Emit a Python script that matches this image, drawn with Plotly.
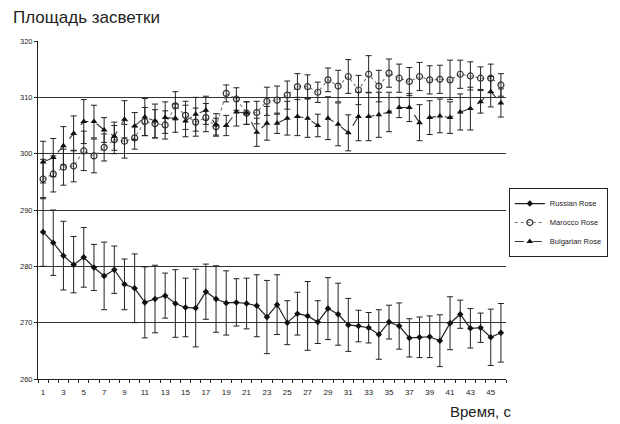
import plotly.graph_objects as go

x_vals = list(range(1, 47))
tick_labels = [str(v) for v in range(1, 47, 2)]

russian = [286.1, 284.2, 281.9, 280.3, 281.6, 279.8, 278.3, 279.4, 276.8, 276.1,
           273.6, 274.2, 274.8, 273.4, 272.7, 272.6, 275.5, 274.2, 273.5, 273.6,
           273.4, 273.0, 271.0, 273.2, 270.0, 271.6, 271.2, 270.1, 272.5, 271.5,
           269.6, 269.4, 269.1, 267.9, 270.1, 269.4, 267.3, 267.4, 267.5, 266.8,
           269.9, 271.5, 269.0, 269.1, 267.4, 268.2]
russian_err = [6.1, 5.8, 6.1, 5.0, 5.3, 4.1, 6.0, 4.2, 4.5, 6.1,
               6.3, 6.0, 4.0, 6.0, 5.2, 6.9, 4.9, 5.9, 5.7, 4.2,
               4.5, 5.5, 6.5, 5.3, 3.9, 3.8, 6.1, 3.8, 5.5, 5.5,
               4.7, 2.8, 2.7, 4.4, 3.0, 4.1, 3.4, 3.6, 3.7, 4.6,
               4.7, 2.5, 3.5, 2.6, 5.0, 5.2]

marocco = [295.5, 296.4, 297.6, 297.8, 300.5, 299.6, 301.1, 302.5, 302.2, 302.8,
           305.7, 305.3, 305.1, 308.5, 306.8, 305.6, 306.4, 304.8, 310.7, 309.7,
           307.2, 307.3, 309.3, 309.5, 310.4, 311.9, 311.9, 310.9, 313.1, 312.0,
           313.7, 311.3, 314.1, 312.0, 314.3, 313.4, 312.8, 313.7, 313.1, 313.2,
           313.1, 314.1, 313.8, 313.4, 313.4, 312.2]
marocco_err = [3.5, 3.2, 3.2, 2.8, 3.5, 3.0, 2.4, 2.5, 3.0, 2.0,
               2.5, 2.5, 2.5, 2.5, 2.5, 2.5, 2.5, 1.5, 1.5, 2.0,
               2.0, 2.0, 2.5, 2.5, 2.5, 2.3, 2.1, 1.8, 2.1, 2.8,
               3.0, 2.6, 3.3, 2.8, 2.5, 2.5, 2.5, 2.5, 2.5, 2.5,
               3.5, 2.5, 2.5, 2.0, 2.5, 2.0]

bulgarian = [298.5, 299.3, 301.4, 303.6, 305.7, 305.7, 304.2, 303.1, 306.1, 304.9,
             306.5, 305.8, 306.4, 306.3, 305.8, 307.0, 307.7, 305.1, 305.0, 307.4,
             307.2, 303.8, 305.4, 305.4, 306.3, 306.6, 306.3, 305.0, 306.3, 305.2,
             303.7, 306.6, 306.6, 306.9, 307.4, 308.2, 308.2, 305.5, 306.4, 306.7,
             306.4, 307.4, 308.0, 309.2, 311.0, 309.0]
bulgarian_err = [3.7, 3.4, 3.4, 3.1, 3.9, 2.9, 2.2, 2.5, 3.3, 2.4,
                 3.3, 3.0, 2.8, 2.5, 2.8, 3.0, 2.5, 2.0, 1.8, 2.5,
                 2.0, 2.5, 3.0, 1.8, 3.0, 3.4, 3.4, 2.0, 3.8, 3.8,
                 3.2, 4.3, 4.3, 4.0, 3.5, 1.8, 2.5, 3.2, 3.0, 3.0,
                 2.8, 3.2, 3.8, 2.0, 2.7, 2.5]

err_style = dict(type="data", visible=True, color="#222", thickness=1, width=3)

fig = go.Figure()
fig.add_trace(go.Scatter(
    x=x_vals, y=russian, name="Russian Rose", mode="lines+markers",
    line=dict(color="#222", width=1.2),
    marker=dict(symbol="diamond", size=5, color="#111"),
    error_y=dict(array=russian_err, **err_style)))
fig.add_trace(go.Scatter(
    x=x_vals, y=marocco, name="Marocco Rose", mode="lines+markers",
    line=dict(color="#777", width=1.1, dash="dot"),
    marker=dict(symbol="circle-open", size=6, color="#333", line=dict(width=1.2)),
    error_y=dict(array=marocco_err, **err_style)))
fig.add_trace(go.Scatter(
    x=x_vals, y=bulgarian, name="Bulgarian Rose", mode="lines+markers",
    line=dict(color="#333", width=1.1, dash="dash"),
    marker=dict(symbol="triangle-up", size=6, color="#111"),
    error_y=dict(array=bulgarian_err, **err_style)))

# page body has an 8px margin, so the figure is sized/offset to compensate
fig.update_layout(
    width=612, height=416,
    margin=dict(l=25, r=100, t=33, b=45),
    paper_bgcolor="white", plot_bgcolor="white",
    font=dict(family="Liberation Sans, Arial, sans-serif", color="#222"),
    showlegend=True,
    legend=dict(x=1.006, y=0.565, xanchor="left", yanchor="top",
                bordercolor="#222", borderwidth=1, bgcolor="white",
                font=dict(size=7.5, color="#222"), itemwidth=30, tracegroupgap=0),
    xaxis=dict(range=[0.5, 46.5], tickmode="array",
               tickvals=list(range(1, 47, 2)), ticktext=tick_labels,
               showgrid=False, zeroline=False, showline=True,
               linecolor="#222", linewidth=1, ticks="", tickfont=dict(size=8),
               ticklabelstandoff=5,
               minor=dict(tickmode="linear", tick0=0.5, dtick=1, ticks="outside",
                          ticklen=3, tickcolor="#222", showgrid=False)),
    yaxis=dict(range=[260, 320], tickmode="linear", tick0=260, dtick=10,
               showgrid=True, gridcolor="#333", gridwidth=1.2,
               zeroline=False, showline=True, linecolor="#222", linewidth=1,
               ticks="outside", ticklen=3, tickcolor="#222",
               tickfont=dict(size=7.5)),
)

fig.add_annotation(text="Площадь засветки", xref="paper", yref="paper",
                   x=-0.057, y=1.07, xanchor="left", yanchor="middle",
                   showarrow=False, font=dict(size=17, color="#222"))
fig.add_annotation(text="Время, с", xref="paper", yref="paper",
                   x=0.945, y=-0.095, xanchor="center", yanchor="middle",
                   showarrow=False, font=dict(size=15, color="#222"))

fig.write_html("out.html")
